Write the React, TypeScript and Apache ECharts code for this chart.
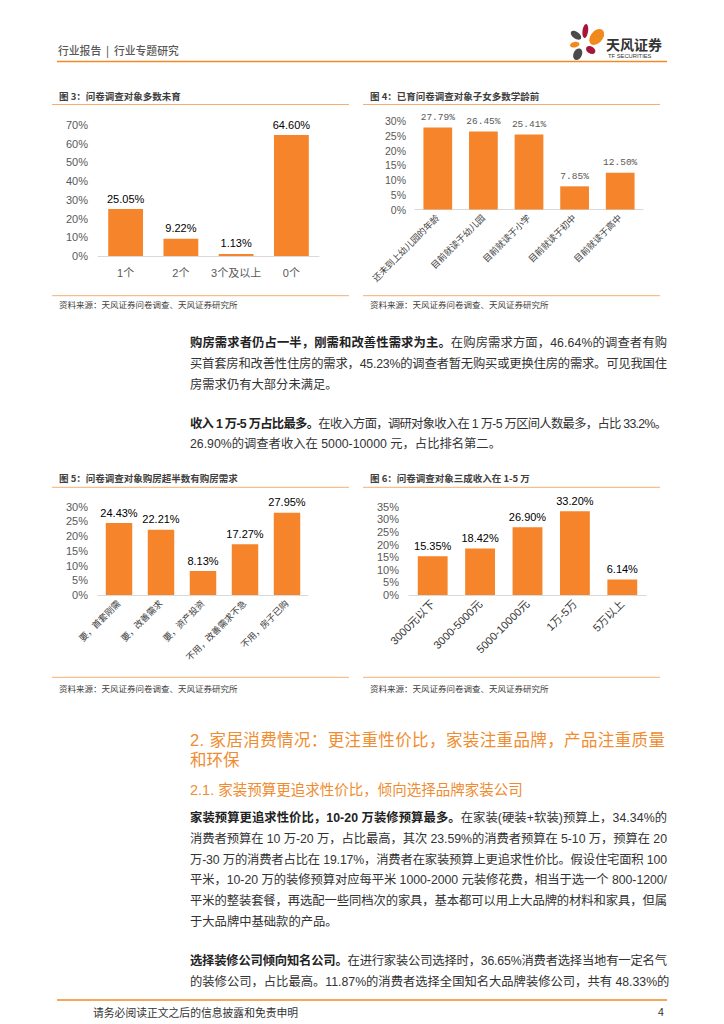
import React, { useEffect, useLayoutEffect, useRef } from "react";
import * as echarts from "echarts";

// ---------- data ----------
const fig3Cats = ["1个", "2个", "3个及以上", "0个"];
const fig3Vals = [25.05, 9.22, 1.13, 64.6];
const fig4Cats = ["还未到上幼儿园的年龄", "目前就读于幼儿园", "目前就读于小学", "目前就读于初中", "目前就读于高中"];
const fig4Vals = [27.79, 26.45, 25.41, 7.85, 12.5];
const fig5Cats = ["要，首套刚需", "要，改善需求", "要，资产投资", "不用，改善需求不急", "不用，房子已购"];
const fig5Vals = [24.43, 22.21, 8.13, 17.27, 27.95];
const fig6Cats = ["3000元以下", "3000-5000元", "5000-10000元", "1万-5万", "5万以上"];
const fig6Vals = [15.35, 18.42, 26.9, 33.2, 6.14];

const titles = [
  "图 3：问卷调查对象多数未育",
  "图 4：已育问卷调查对象子女多数学龄前",
  "图 5：问卷调查对象购房超半数有购房需求",
  "图 6：问卷调查对象三成收入在 1-5 万",
];
const sourceText = "资料来源：天风证券问卷调查、天风证券研究所";

type Seg = [string, boolean];
const para1: Seg[][] = [
  [["购房需求者仍占一半，刚需和改善性需求为主。", true], ["在购房需求方面，46.64%的调查者有购", false]],
  [["买首套房和改善性住房的需求，45.23%的调查者暂无购买或更换住房的需求。可见我国住", false]],
  [["房需求仍有大部分未满足。", false]],
];
const para2: Seg[][] = [
  [["收入 1 万-5 万占比最多。", true], ["在收入方面，调研对象收入在 1 万-5 万区间人数最多，占比 33.2%。", false]],
  [["26.90%的调查者收入在 5000-10000 元，占比排名第二。", false]],
];
const heading1 = ["2. 家居消费情况：更注重性价比，家装注重品牌，产品注重质量", "和环保"];
const heading2 = "2.1. 家装预算更追求性价比，倾向选择品牌家装公司";
const para3: Seg[][] = [
  [["家装预算更追求性价比，10-20 万装修预算最多。", true], ["在家装(硬装+软装)预算上，34.34%的", false]],
  [["消费者预算在 10 万-20 万，占比最高，其次 23.59%的消费者预算在 5-10 万，预算在 20", false]],
  [["万-30 万的消费者占比在 19.17%，消费者在家装预算上更追求性价比。假设住宅面积 100", false]],
  [["平米，10-20 万的装修预算对应每平米 1000-2000 元装修花费，相当于选一个 800-1200/", false]],
  [["平米的整装套餐，再选配一些同档次的家具，基本都可以用上大品牌的材料和家具，但属", false]],
  [["于大品牌中基础款的产品。", false]],
];
const para4: Seg[][] = [
  [["选择装修公司倾向知名公司。", true], ["在进行家装公司选择时，36.65%消费者选择当地有一定名气", false]],
  [["的装修公司，占比最高。11.87%的消费者选择全国知名大品牌装修公司，共有 48.33%的", false]],
];
const headerText = "行业报告  |  行业专题研究";
const footerText = "请务必阅读正文之后的信息披露和免责申明";
const pageNo = "4";

// ---------- styles ----------
const ORANGE = "#F5842A";
const LINE_ORANGE = "#F08A24";
const LIGHT_ORANGE = "#F6AE72";
const FONT = "'Liberation Sans', 'Noto Sans CJK SC', sans-serif";
const CJK = "'Noto Sans CJK SC', sans-serif";

function makeChart(idx: number, cats: string[], vals: number[], max: number, interval: number, grid: any, opts: any) {
  return {
    grid: { left: grid[0], top: grid[1], width: grid[2], height: grid[3], containLabel: false, outerBoundsMode: "none" },
    x: {
      type: "category", gridIndex: idx, data: cats,
      axisLine: { show: true, lineStyle: { color: "#D9D9D9", width: 1 } },
      axisTick: { show: false },
      axisLabel: {
        interval: 0, rotate: opts.rotate || 0, margin: opts.xMargin, fontSize: opts.xSize,
        color: opts.xColor, fontFamily: FONT,
      },
    },
    y: {
      type: "value", gridIndex: idx, min: 0, max, interval,
      axisLine: { show: false }, axisTick: { show: false }, splitLine: { show: false },
      axisLabel: { formatter: "{value}%", fontSize: opts.ySize, color: "#595959", margin: opts.yMargin, fontFamily: FONT },
    },
    s: {
      type: "bar", xAxisIndex: idx, yAxisIndex: idx, data: vals, barCategoryGap: "37%",
      itemStyle: { color: ORANGE },
      label: {
        show: true, position: "top", distance: opts.lDist,
        formatter: (p: any) => p.value.toFixed(2) + "%",
        fontSize: opts.lSize, color: opts.lColor, fontFamily: opts.lFont || FONT,
      },
    },
  };
}

function hline(x1: number, x2: number, y: number, color: string, w: number) {
  return { type: "line", shape: { x1, y1: y, x2, y2: y }, style: { stroke: color, lineWidth: w }, silent: true };
}
function txt(text: string, x: number, y: number, size: number, color: string, extra: any = {}) {
  return {
    type: "text", x, y, silent: true,
    style: { text, fill: color, fontSize: size, fontFamily: FONT, verticalAlign: "middle", align: "left", ...extra },
  };
}
function petal(cx: number, cy: number, rx: number, ry: number, rot: number, color: string) {
  return { type: "ellipse", x: cx, y: cy, rotation: (rot * Math.PI) / 180, shape: { cx: 0, cy: 0, rx, ry }, style: { fill: color }, silent: true };
}

function buildOption() {
  const c3 = makeChart(0, fig3Cats, fig3Vals, 70, 10, [98, 125, 221, 131],
    { xMargin: 11, xSize: 11, xColor: "#595959", ySize: 11, yMargin: 10, lDist: 5, lSize: 11, lColor: "#000" });
  const c4 = makeChart(1, fig4Cats, fig4Vals, 30, 5, [415, 121, 228, 88.5],
    { rotate: 45, xMargin: 7, xSize: 9, xColor: "#404040", ySize: 10.5, yMargin: 9, lDist: 5, lSize: 9.5, lColor: "#595959", lFont: "'Liberation Mono', monospace" });
  const c5 = makeChart(2, fig5Cats, fig5Vals, 30, 5, [98, 506.7, 210, 88.3],
    { rotate: 45, xMargin: 7, xSize: 9, xColor: "#404040", ySize: 11, yMargin: 10, lDist: 5, lSize: 11, lColor: "#000" });
  const c6 = makeChart(3, fig6Cats, fig6Vals, 35, 5, [409, 506.7, 237, 88.3],
    { rotate: 45, xMargin: 7, xSize: 11, xColor: "#333", ySize: 11, yMargin: 10, lDist: 5, lSize: 11, lColor: "#000" });
  const cs = [c3, c4, c5, c6];

  const graphic: any[] = [
    // header
    txt(headerText, 58, 50, 10.8, "#595959", { fontFamily: CJK, fontWeight: 500 }),
    hline(57, 667, 61.5, LINE_ORANGE, 1.6),
    petal(576, 35.3, 6, 3.4, -35, "#4A4A4A"),
    petal(585.3, 31, 2.8, 7, -8, "#A8143A"),
    petal(596.7, 37, 6, 9, -40, "#F08A1C"),
    petal(574.7, 44.7, 4.8, 2.8, 10, "#F08A1C"),
    petal(590.7, 50, 5, 3.6, -30, "#A8143A"),
    petal(577.7, 54.3, 4.2, 6, -25, "#4A4A4A"),
    txt("天风证券", 606, 43.5, 14, "#333", { fontFamily: CJK, fontWeight: "bold" }),
    txt("TF SECURITIES", 608, 56.3, 5.8, "#333", { fontFamily: FONT }),
    // footer
    hline(57, 667, 1000, LINE_ORANGE, 1.6),
    txt(footerText, 93, 1012, 10.8, "#333", { fontFamily: CJK }),
    txt(pageNo, 658, 1012, 10.5, "#333"),
  ];
  const panels = [
    { x: 59, l1: 52, l2: 349, ty: 96, tl: 104.5, sl: 295.7, sy: 304 },
    { x: 370, l1: 363, l2: 660, ty: 96, tl: 104.5, sl: 295.7, sy: 304 },
    { x: 59, l1: 52, l2: 349, ty: 478.3, tl: 487.3, sl: 677.3, sy: 688 },
    { x: 370, l1: 363, l2: 660, ty: 478.3, tl: 487.3, sl: 677.3, sy: 688 },
  ];
  panels.forEach((p, i) => {
    graphic.push(txt(titles[i], p.x, p.ty, 9.5, "#404040", { fontFamily: CJK, fontWeight: "bold" }));
    graphic.push(hline(p.l1, p.l2, p.tl, LIGHT_ORANGE, 1));
    graphic.push(hline(p.l1, p.l2, p.sl, LIGHT_ORANGE, 1));
    graphic.push(txt(sourceText, p.x, p.sy, 8.5, "#404040", { fontFamily: CJK }));
  });

  return {
    animation: false,
    backgroundColor: "#fff",
    grid: cs.map((c) => c.grid),
    xAxis: cs.map((c) => c.x),
    yAxis: cs.map((c) => c.y),
    series: cs.map((c) => c.s),
    graphic,
  };
}

// ---------- text lines ----------
function JLine(props: { segs: Seg[]; left: number; top: number; width: number; size: number; lh: number; color: string; justify: boolean; weight?: string }) {
  const r = useRef<HTMLDivElement>(null);
  useLayoutEffect(() => {
    const el = r.current;
    if (!el || !props.justify) return;
    el.style.letterSpacing = "0px";
    const inner = el.firstChild as HTMLSpanElement;
    const w = inner.getBoundingClientRect().width;
    const n = Array.from(inner.textContent || "").length;
    if (n > 1) el.style.letterSpacing = (props.width - w) / (n - 1) + "px";
  }, []);
  return (
    <div
      ref={r}
      style={{
        position: "absolute", left: props.left, top: props.top - props.lh / 2, width: props.width + 40,
        whiteSpace: "nowrap", fontSize: props.size, lineHeight: props.lh + "px", color: props.color,
        fontFamily: FONT, fontWeight: (props.weight as any) || "normal",
      }}
    >
      <span>
        {props.segs.map((s, i) => (
          <span key={i} style={{ fontWeight: s[1] ? "bold" : undefined, color: s[1] ? "#222" : undefined }}>{s[0]}</span>
        ))}
      </span>
    </div>
  );
}

export default function App() {
  const ref = useRef<HTMLDivElement>(null);
  useEffect(() => {
    if (!ref.current) return;
    const chart = echarts.init(ref.current, null, { renderer: "svg", width: 724, height: 1024 });
    chart.setOption(buildOption() as any);
    return () => chart.dispose();
  }, []);

  const L = 190, W = 477, FS = 12.3, LH = 18, TC = "#333";
  const lines: any[] = [];
  const addPara = (para: Seg[][], ys: number[], key: string) => {
    para.forEach((segs, i) => {
      lines.push(<JLine key={key + i} segs={segs} left={L} top={ys[i]} width={W} size={FS} lh={LH} color={TC} justify={i < para.length - 1} />);
    });
  };
  addPara(para1, [343, 364, 385], "p1");
  addPara(para2, [423.5, 444], "p2");
  addPara(para3, [818, 838.8, 859.6, 880.4, 901.2, 922], "p3");
  addPara(para4, [961, 982], "p4");

  return (
    <div style={{ position: "absolute", left: 0, top: 0, width: 724, height: 1024, background: "#fff", overflow: "hidden" }}>
      <div ref={ref} style={{ position: "absolute", left: 0, top: 0, width: 724, height: 1024 }} />
      {lines}
      <JLine segs={[[heading1[0], false]]} left={L} top={740} width={475} size={16.5} lh={20} color="#F08C30" justify={true} />
      <JLine segs={[[heading1[1], false]]} left={L} top={760} width={475} size={16.5} lh={20} color="#F08C30" justify={false} />
      <JLine segs={[[heading2, false]]} left={L} top={790} width={333} size={14.5} lh={18} color="#F08C30" justify={false} />
    </div>
  );
}
